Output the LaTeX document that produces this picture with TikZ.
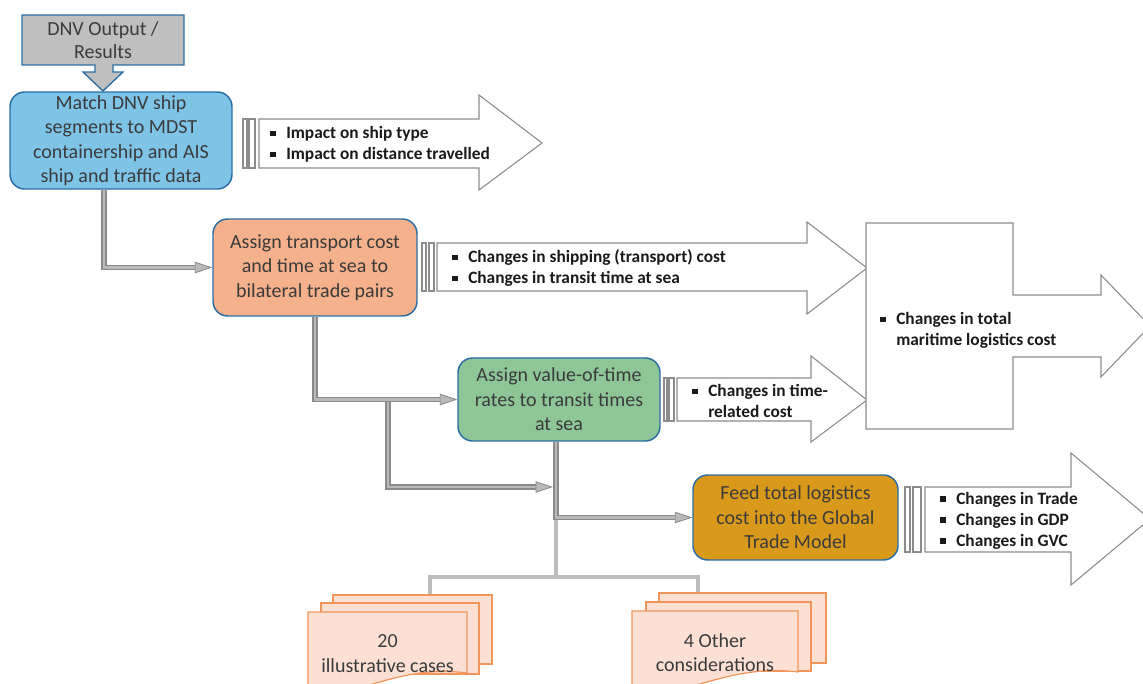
\documentclass[tikz,border=0pt]{standalone}
\usepackage{fontspec}
\setmainfont{Carlito}
\usetikzlibrary{arrows.meta}
\definecolor{boxborder}{HTML}{2B6EA5}
\definecolor{bluefill}{HTML}{7DC4E7}
\definecolor{orangefill}{HTML}{F5B08C}
\definecolor{greenfill}{HTML}{8FC697}
\definecolor{goldfill}{HTML}{D9991A}
\definecolor{dnvgray}{HTML}{BFBFBF}
\definecolor{txtgray}{HTML}{3B3B3B}
\definecolor{pipeouter}{HTML}{8A8A8A}
\definecolor{pipeinner}{HTML}{B9B9B9}
\definecolor{lightline}{HTML}{BDBDBD}
\definecolor{arrowgray}{HTML}{8C8C8C}
\definecolor{docfill}{HTML}{FBE0D3}
\definecolor{docborder}{HTML}{F2955A}
\definecolor{bulblack}{HTML}{1A1A1A}
\newcommand{\bsq}{\makebox[12pt][l]{\raisebox{0.28ex}{\rule{4pt}{4pt}}}}
\tikzset{
  stepbox/.style={draw=boxborder, line width=1.1pt, rounded corners=11pt, align=center, inner sep=0pt,
    font=\fontsize{15}{18.4}\selectfont, text=txtgray},
  pipe/.style={draw=pipeouter, line width=1.1pt, double=pipeinner, double distance=1.7pt,
    -{Triangle[length=13pt,width=8.5pt,fill=pipeinner,color=pipeouter,line width=0.6pt]}},
  thinline/.style={draw=lightline, line width=2.6pt},
  barrow/.style={draw=arrowgray, line width=0.8pt, fill=white},
  bultext/.style={font=\fontsize{13}{15.75}\selectfont\bfseries, text=bulblack, align=left, inner sep=0pt},
  docshape/.style={draw=docborder, line width=0.9pt, fill=docfill},
  doctext/.style={font=\fontsize{15}{18.5}\selectfont, text=txtgray, align=center, inner sep=0pt}
}
\begin{document}
\begin{tikzpicture}[x=0.75pt,y=-0.75pt]
\useasboundingbox (0,0) rectangle (1143,684);

% DNV output shape
\draw[draw=boxborder, line width=1pt, fill=dnvgray]
  (22,15) -- (184,15) -- (184,65) -- (113,65) -- (113,72) -- (123,72) -- (103,91)
  -- (83,72) -- (95,72) -- (95,65) -- (22,65) -- cycle;
\node[font=\fontsize{15}{17.25}\selectfont, text=txtgray, align=center, inner sep=0pt] (dnv) at (103,40.5) {DNV Output /\\Results};

% Process boxes
\node[stepbox, fill=bluefill, minimum width=166.5pt, minimum height=72.75pt] (blue) at (121,140.5)
  {Match DNV ship\\segments to MDST\\containership and AIS\\ship and traffic data};
\node[stepbox, fill=orangefill, minimum width=153pt, minimum height=72.75pt] (orange) at (315,267.5)
  {Assign transport cost\\and time at sea to\\bilateral trade pairs};
\node[stepbox, fill=greenfill, minimum width=151.5pt, minimum height=62.25pt] (green) at (559,399.5)
  {Assign value-of-time\\rates to transit times\\at sea};
\node[stepbox, fill=goldfill, minimum width=153.75pt, minimum height=63.75pt] (gold) at (795.5,517.5)
  {Feed total logistics\\cost into the Global\\Trade Model};

% Striped arrow 1
\draw[barrow] (243,119) rectangle (247,168);
\draw[barrow] (249,119) rectangle (255,168);
\draw[barrow] (259,119) -- (479,119) -- (479,95) -- (542,143) -- (479,190) -- (479,168) -- (259,168) -- cycle;
\node[bultext, anchor=west] (t1) at (270,144) {\bsq Impact on ship type\\\bsq Impact on distance travelled};

% Striped arrow 2
\draw[barrow] (422,243) rectangle (426,291);
\draw[barrow] (429,243) rectangle (434,291);
\draw[barrow] (437,243) -- (807,243) -- (807,222) -- (867,268) -- (807,314) -- (807,291) -- (437,291) -- cycle;
\node[bultext, anchor=west] (t2) at (452,268) {\bsq Changes in shipping (transport) cost\\\bsq Changes in transit time at sea};

% Striped arrow 3
\draw[barrow] (664,378) rectangle (667,421);
\draw[barrow] (669,378) rectangle (674,421);
\draw[barrow] (677,378) -- (811,378) -- (811,356) -- (867,400) -- (811,442) -- (811,421) -- (677,421) -- cycle;
\node[bultext, anchor=west] (t3) at (692,401) {\bsq Changes in time-\\\hspace*{12pt}related cost};

% Total cost box with arrow
\draw[barrow] (866,223) -- (1013,223) -- (1013,295) -- (1101,295) -- (1101,275) -- (1150,326)
  -- (1101,377) -- (1101,357) -- (1013,357) -- (1013,429) -- (866,429) -- cycle;
\node[bultext, anchor=west] (t4) at (880,330.5) {\bsq Changes in total\\\hspace*{12pt}maritime logistics cost};

% Striped arrow 4
\draw[barrow] (905,487) rectangle (910,552);
\draw[barrow] (913,487) rectangle (921,552);
\draw[barrow] (925,487) -- (1071,487) -- (1071,453) -- (1150,519) -- (1071,585) -- (1071,552) -- (925,552) -- cycle;
\node[bultext, anchor=west] (t5) at (940,520.5) {\bsq Changes in Trade\\\bsq Changes in GDP\\\bsq Changes in GVC};

% Coordinates for connectors
\coordinate (ax) at (104,0);
\coordinate (cx) at (388,0);
\coordinate (gx) at (556,0);
\coordinate (c2) at (553,487);
\coordinate (j1) at (green.west -| cx);
\coordinate (j2) at (gold.west -| gx);
\coordinate (j3) at (556,577);
\coordinate (docL) at (430,595);
\coordinate (docR) at (698,593);

% Light connectors to documents
\draw[thinline] (j2) -- (j3);
\draw[thinline] (docL) |- (j3) -| (docR);

% Documents left
\draw[docshape] (333,595) rectangle (492,664);
\draw[docshape] (321,603) rectangle (479,674);
\draw[docshape] (308,612) -- (467,612) -- (467,673) .. controls (430,668) and (400,676) .. (373,684)
  .. controls (350,690) and (330,695) .. (308,695) -- cycle;
\node[doctext] (casesL) at (387.5,653.5) {20\\illustrative cases};

% Documents right
\draw[docshape] (659,593) rectangle (826,663);
\draw[docshape] (646,602) rectangle (811,671);
\draw[docshape] (632,611) -- (798,611) -- (798,672) .. controls (760,667) and (728,676) .. (700,684)
  .. controls (675,690) and (655,695) .. (632,695) -- cycle;
\node[doctext] (casesR) at (715,652.5) {4 Other\\considerations};

% Pipes
\draw[pipe] (j1) |- (c2);
\draw[pipe] (blue.south -| ax) |- (orange.west);
\draw[pipe] (orange.south) |- (green.west);
\draw[pipe] (green.south -| gx) |- (gold.west);
\end{tikzpicture}
\end{document}
